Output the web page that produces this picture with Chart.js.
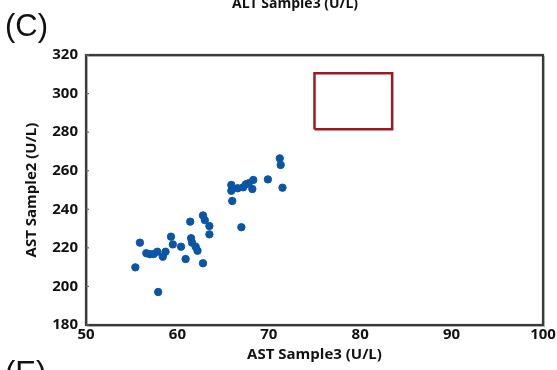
<!DOCTYPE html>
<html>
<head>
<meta charset="utf-8">
<script src="https://cdn.jsdelivr.net/npm/chart.js@4"></script>
<style>
  body { margin: 0; background: #fff; overflow: hidden; }
  #wrap { position: relative; width: 557px; height: 370px; }
  .lbl { position: absolute; white-space: nowrap; line-height: 1; color: #111; }
  #panelC { left: 5px; top: 8px; font: 31px "Liberation Sans", Arial, sans-serif; }
  #panelE { left: 5px; top: 355px; font: 31px "Liberation Sans", Arial, sans-serif; }
  #topTitle { left: 232px; top: -7px; font: bold 14px "Open Sans", sans-serif; }
</style>
</head>
<body>
<div id="wrap">
  <canvas id="myChart" width="557" height="370"></canvas>
  <div class="lbl" id="panelC">(C)</div>
  <div class="lbl" id="panelE">(E)</div>
  <div class="lbl" id="topTitle">ALT Sample3 (U/L)</div>
</div>
<script>
const ctx = document.getElementById('myChart');

// AST Sample3 (x) vs AST Sample2 (y)
const astSample3 = [55.9, 55.4, 56.6, 57.0, 57.4, 57.8, 58.4, 58.7, 57.9, 59.3, 59.5, 60.4, 60.9,
  61.4, 61.5, 61.6, 62.0, 62.2, 62.8, 62.8, 63.0, 63.5, 63.5, 67.0, 66.0, 65.9, 65.9, 66.6,
  67.2, 67.5, 67.8, 68.3, 68.2, 69.9, 71.2, 71.3, 71.5];
const astSample2 = [222.7, 209.9, 217.2, 216.7, 216.8, 218.0, 215.4, 218.0, 197.1, 225.8, 221.8, 220.6, 214.2,
  233.6, 225.0, 222.7, 220.6, 218.5, 212.0, 236.8, 234.4, 231.3, 227.0, 230.7, 244.3, 252.6, 249.6, 250.9,
  251.4, 253.0, 253.5, 255.2, 250.5, 255.5, 266.4, 263.0, 251.2];

// reference box
const boxX = [75, 75, 83.5, 83.5, 75];
const boxY = [281.5, 310.5, 310.5, 281.5, 281.5];

const xTicks = { min: 50, max: 100, step: 10 };
const yTicks = { min: 180, max: 320, step: 20 };

const frame = {
  id: 'frame',
  afterDatasetsDraw(chart) {
    const a = chart.chartArea;
    const c = chart.ctx;
    c.save();
    c.strokeStyle = '#bdbdbd';
    c.lineWidth = 1;
    c.strokeRect(a.left + 1.5, a.top + 1.5, a.right - a.left, a.bottom - a.top);
    c.strokeStyle = '#3a3a3a';
    c.lineWidth = 2.2;
    c.strokeRect(a.left, a.top, a.right - a.left, a.bottom - a.top);
    const y = chart.scales.y;
    c.lineWidth = 1.2;
    c.strokeStyle = '#666';
    y.ticks.forEach(t => {
      const py = y.getPixelForValue(t.value);
      c.beginPath();
      c.moveTo(a.left, py);
      c.lineTo(a.left + 3, py);
      c.stroke();
    });
    c.restore();
  }
};

const tickFont = { family: '"Open Sans", sans-serif', size: 15, weight: 'bold' };
const titleFont = { family: '"Open Sans", sans-serif', size: 15, weight: 'bold' };

new Chart(ctx, {
  type: 'scatter',
  data: {
    datasets: [{
      label: 'AST',
      data: astSample3.map((v, i) => ({ x: v, y: astSample2[i] })),
      backgroundColor: '#0b55a6',
      borderColor: '#0b55a6',
      pointRadius: 3.7,
      pointHoverRadius: 3.7
    },
    {
      label: 'box',
      type: 'line',
      data: boxX.map((v, i) => ({ x: v, y: boxY[i] })),
      borderColor: '#9a1b1f',
      borderWidth: 2.5,
      pointRadius: 0,
      fill: false
    }]
  },
  options: {
    responsive: false,
    animation: false,
    layout: { padding: { left: 20, right: 14, top: 55, bottom: 3 } },
    plugins: { legend: { display: false }, tooltip: { enabled: false } },
    scales: {
      x: {
        type: 'linear',
        min: xTicks.min,
        max: xTicks.max,
        ticks: { stepSize: xTicks.step, color: '#111', font: tickFont, padding: 1, maxRotation: 0 },
        grid: { display: false, drawTicks: false },
        border: { display: false },
        title: { display: true, text: 'AST Sample3 (U/L)', color: '#111', font: titleFont, padding: { top: 0, bottom: 3 } },
        afterFit(scale) { scale.height = 42; }
      },
      y: {
        min: yTicks.min,
        max: yTicks.max,
        ticks: { stepSize: yTicks.step, color: '#111', font: tickFont, padding: 8 },
        grid: { display: false, drawTicks: false },
        border: { display: false },
        title: { display: true, text: 'AST Sample2 (U/L)', color: '#111', font: titleFont, padding: { top: 3, bottom: 4 } },
        afterFit(scale) { scale.width = 66; }
      }
    }
  },
  plugins: [frame]
});
</script>
</body>
</html>
